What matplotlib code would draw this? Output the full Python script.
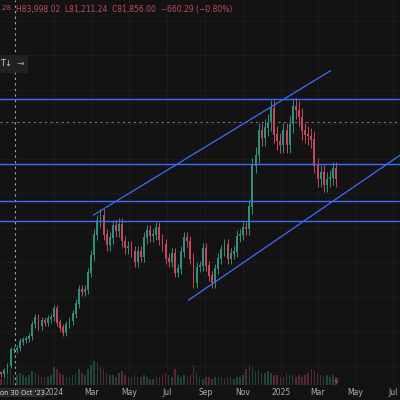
import matplotlib
matplotlib.use("Agg")
import matplotlib.pyplot as plt
import matplotlib.dates as mdates
import numpy as np
import pandas as pd

# ---------- data (BTC/USD, 5-day steps) --------------------------------------
start_date = "2023-10-03"
closes = [27.9, 27.5, 28.5, 30.0, 34.5, 34.5,
          35.0, 37.0, 37.5, 37.8,
          38.5, 42.0, 43.8, 41.5, 43.0, 42.5,
          43.5, 44.0, 46.5, 42.5, 41.0, 39.5, 42.0,
          43.0, 45.0, 48.0, 52.0, 51.5, 52.0, 57.0,
          62.0, 68.0, 72.0, 73.5, 68.0, 65.0, 67.0,
          70.5, 69.0, 71.0, 66.0, 64.0, 64.5,
          63.0, 60.0, 63.0, 61.5, 67.0, 69.0,
          67.5, 68.0, 70.0, 66.5, 65.0, 61.0,
          60.0, 62.5, 57.0, 58.0, 63.0, 67.0,
          66.0, 61.0, 54.0, 58.5, 59.0, 64.0,
          59.0, 56.0, 54.0, 58.0, 61.0, 63.5,
          65.0, 61.0, 62.5, 63.0, 67.5, 68.0,
          70.0, 69.5, 76.0, 88.0, 91.0, 98.0,
          96.0, 99.0, 100.5, 104.5, 97.0, 95.0,
          94.0, 98.0, 94.0, 100.0, 105.0, 104.0,
          102.0, 98.0, 97.0, 96.5, 95.5, 88.0,
          84.0, 86.0, 82.5, 84.0, 84.5, 87.0, 84.0]   # thousands USD
volumes = [3, 3, 4, 6, 8, 5, 5, 6, 5, 4, 5, 7, 6, 5, 4, 4, 4, 5, 9, 8, 6, 5,
           4, 4, 5, 6, 8, 6, 5, 8, 10, 12, 11, 9, 8, 6, 5, 5, 4, 6, 7, 5, 4,
           4, 5, 4, 4, 5, 4, 3, 3, 4, 4, 5, 6, 5, 4, 8, 5, 4, 5, 4, 5, 10, 6,
           4, 3, 4, 4, 3, 4, 4, 4, 3, 4, 4, 3, 4, 4, 5, 8, 10, 9, 7, 8, 6, 6,
           7, 6, 5, 5, 4, 4, 6, 5, 5, 4, 5, 4, 5, 6, 8, 7, 6, 5, 4, 5, 4, 5, 4]
h_levels = [107.3, 88.5, 77.8, 72.0]
dashed_level = 100.7
upper_channel = (["2024-03-05", "2025-03-22"], [73.7, 115.5])
lower_channel = (["2024-08-05", "2025-07-12"], [49.0, 91.0])
month_ticks = ["2024-01-01", "2024-03-01", "2024-05-01", "2024-07-01", "2024-09-01",
               "2024-11-01", "2025-01-01", "2025-03-01", "2025-05-01", "2025-07-01"]
month_labels = ["2024", "Mar", "May", "Jul", "Sep", "Nov", "2025", "Mar", "May", "Jul"]

# ---------- styling -----------------------------------------------------------
BG = "#131313"
UP, DOWN = "#2f8f7c", "#c24a5c"
BLUE = "#3d6cff"

dates = pd.date_range(start_date, periods=len(closes), freq="5D")
x = mdates.date2num(dates)
c = np.array(closes)
o = np.r_[c[0] * 0.98, c[:-1]]
hi = np.maximum(o, c) * 1.025
lo = np.minimum(o, c) * 0.975
up = c >= o
col = np.where(up, UP, DOWN)

fig = plt.figure(figsize=(4, 4), dpi=100, facecolor=BG)
ax = fig.add_axes([0, 15 / 400, 1, 385 / 400], facecolor=BG)
ax.set_xlim(mdates.datestr2num("2023-10-06"), mdates.datestr2num("2025-07-12"))
ax.set_ylim(24.4, 136)

for t in mdates.datestr2num(month_ticks):
    ax.axvline(t, color="#1b1b1b", lw=0.8, zorder=0)
for yv in np.arange(30, 136, 10):
    ax.axhline(yv, color="#1b1b1b", lw=0.8, zorder=0)

# volume in a twin axis at the bottom
vax = ax.twinx()
vax.set_ylim(0, max(volumes) * 16)
vax.bar(x, volumes, width=2.5, color=col, alpha=0.4)
vax.axis("off")

ax.vlines(x, lo, hi, color=col, lw=0.7, zorder=2)
ax.bar(x, np.abs(c - o) + 0.2, bottom=np.minimum(o, c), width=3.0, color=col, zorder=3)

for lv in h_levels:
    ax.axhline(lv, color=BLUE, lw=1.0, zorder=4)
ax.axhline(dashed_level, color="#777777", lw=0.8, ls=(0, (2, 3)), zorder=1)
for xs, ys in (upper_channel, lower_channel):
    ax.plot(mdates.datestr2num(xs), ys, color=BLUE, lw=0.9, zorder=4)

# crosshair
ax.axvline(mdates.datestr2num("2023-10-30"), color="#aaaaaa", lw=0.8, ls=(0, (2, 3)))

ax.set_xticks([])
ax.set_yticks([])
for s in ax.spines.values():
    s.set_visible(False)

# header and toolbar
fig.text(0.0, 0.988, ".28", color="#c24a5c", fontsize=5, va="top")
fig.text(0.04, 0.988, "H83,998.02  L81,211.24  C81,856.00  −660.29 (−0.80%)",
         color="#c24a5c", fontsize=5.5, va="top")
fig.text(0.0, 0.84, "T\u2193  ⊸", color="#cccccc", fontsize=6, va="center",
         bbox=dict(facecolor="#222222", edgecolor="none", pad=3))

# date strip
for t, lab in zip(mdates.datestr2num(month_ticks), month_labels):
    xf = (t - ax.get_xlim()[0]) / (ax.get_xlim()[1] - ax.get_xlim()[0])
    fig.text(xf, 0.018, lab, color="#b0b0b0", fontsize=5.5, ha="center", va="center")
fig.text(0.0, 0.018, "on 30 Oct '23", color="#dddddd", fontsize=4.8, va="center",
         bbox=dict(facecolor="#2a2a2a", edgecolor="none", pad=1.0))
fig.text(0.84, 0.045, "⚡", color="#b04fd6", fontsize=7, ha="center", va="center")

fig.savefig("out.png", dpi=100, facecolor=BG)
